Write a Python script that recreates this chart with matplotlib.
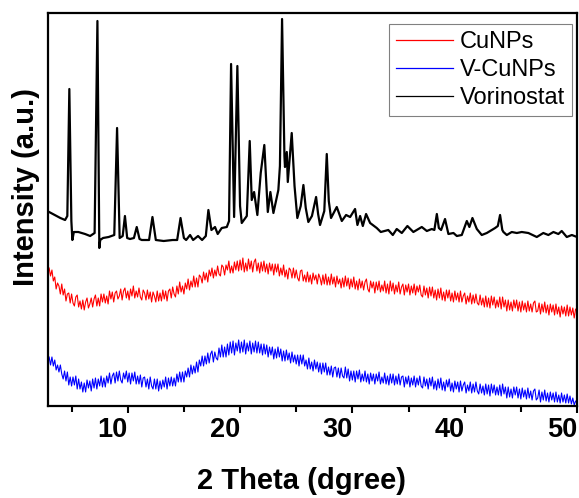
import numpy as np
import matplotlib
matplotlib.use("Agg")
import matplotlib.pyplot as plt

plt.rcParams['font.family'] = ['Liberation Sans', 'DejaVu Sans']

# === Data (intensity in arbitrary units, offsets included) ===
# scan grid for the two nanoparticle patterns (2 theta, degrees), 8 points per degree
scan_2theta = np.arange(3.0, 50.001, 0.125)

cunps = [
    138, 130, 136, 125, 129, 117, 123, 120,   # 3
    112, 122, 111, 117, 105, 112, 113, 103,   # 4
    112, 103, 100, 109, 111, 99, 105, 97,     # 5
    106, 96, 104, 108, 98, 102, 108, 99,      # 6
    107, 111, 100, 108, 100, 112, 104, 112,   # 7
    103, 110, 102, 115, 107, 114, 104, 113,   # 8
    115, 107, 110, 117, 106, 115, 118, 108,   # 9
    115, 106, 117, 110, 120, 108, 115, 109,   # 10
    118, 109, 106, 116, 113, 106, 116, 107,   # 11
    114, 104, 114, 110, 104, 115, 105, 113,   # 12
    105, 116, 107, 115, 105, 115, 117, 108,   # 13
    119, 112, 109, 120, 112, 124, 114, 120,   # 14
    112, 123, 117, 127, 116, 125, 119, 130,   # 15
    119, 128, 119, 131, 129, 123, 134, 126,   # 16
    133, 124, 136, 130, 138, 128, 136, 130,   # 17
    140, 132, 130, 141, 139, 131, 141, 136,   # 18
    145, 133, 140, 133, 144, 136, 145, 135,   # 19
    146, 136, 148, 134, 143, 135, 147, 137,   # 20
    145, 134, 144, 147, 135, 143, 133, 144,   # 21
    135, 145, 134, 142, 132, 143, 135, 142,   # 22
    131, 142, 134, 142, 130, 138, 131, 141,   # 23
    129, 136, 127, 138, 136, 128, 138, 128,   # 24
    136, 128, 125, 135, 136, 125, 131, 124,   # 25
    134, 124, 131, 122, 133, 126, 131, 122,   # 26
    132, 128, 121, 131, 122, 132, 121, 129,   # 27
    121, 132, 122, 129, 119, 130, 122, 127,   # 28
    118, 128, 119, 130, 120, 128, 117, 127,   # 29
    119, 129, 117, 125, 116, 127, 118, 125,   # 30
    116, 124, 127, 117, 114, 125, 118, 124,   # 31
    113, 124, 116, 125, 114, 121, 115, 125,   # 32
    113, 122, 112, 125, 115, 123, 112, 121,   # 33
    114, 124, 112, 119, 122, 111, 121, 114,   # 34
    122, 111, 120, 113, 122, 111, 120, 114,   # 35
    121, 111, 109, 120, 111, 118, 108, 119,   # 36
    110, 119, 108, 116, 106, 117, 108, 118,   # 37
    106, 114, 105, 116, 108, 116, 105, 113,   # 38
    104, 115, 106, 113, 104, 115, 104, 110,   # 39
    113, 102, 110, 104, 113, 102, 111, 103,   # 40
    112, 103, 101, 111, 101, 108, 99, 110,    # 41
    99, 108, 98, 110, 101, 109, 98, 106,      # 42
    99, 109, 97, 109, 99, 106, 95, 106,       # 43
    96, 104, 95, 106, 98, 106, 95, 104,       # 44
    94, 105, 96, 103, 94, 105, 95, 102,       # 45
    94, 103, 105, 94, 95, 103, 92, 102,       # 46
    94, 104, 93, 101, 91, 102, 94, 101,       # 47
    91, 102, 92, 99, 89, 100, 92, 99,         # 48
    90, 101, 90, 99, 91, 98, 88, 97,          # 49
    95,                                       # 50
]

v_cunps = [
    49, 41, 49, 40, 46, 36, 41, 34,   # 3
    41, 32, 27, 35, 25, 34, 21, 29,   # 4
    20, 29, 21, 30, 17, 27, 17, 24,   # 5
    14, 23, 14, 26, 18, 25, 15, 27,   # 6
    18, 28, 17, 27, 20, 30, 19, 28,   # 7
    19, 30, 23, 33, 22, 30, 33, 23,   # 8
    34, 25, 35, 26, 23, 33, 27, 35,   # 9
    24, 33, 22, 33, 25, 34, 22, 30,   # 10
    22, 31, 19, 28, 29, 19, 27, 17,   # 11
    29, 20, 17, 27, 17, 27, 15, 25,   # 12
    17, 26, 19, 29, 17, 28, 20, 29,   # 13
    20, 28, 20, 32, 24, 34, 24, 34,   # 14
    24, 35, 29, 38, 29, 41, 32, 40,   # 15
    33, 44, 34, 46, 40, 50, 40, 50,   # 16
    42, 53, 43, 52, 55, 44, 54, 48,   # 17
    46, 58, 49, 61, 49, 59, 49, 62,   # 18
    51, 64, 53, 65, 51, 63, 55, 66,   # 19
    53, 64, 54, 66, 52, 63, 55, 65,   # 20
    52, 63, 54, 65, 53, 64, 53, 62,   # 21
    51, 62, 52, 61, 49, 59, 51, 59,   # 22
    47, 57, 48, 59, 49, 57, 45, 55,   # 23
    45, 56, 46, 53, 43, 54, 44, 51,   # 24
    42, 51, 40, 51, 42, 51, 40, 46,   # 25
    37, 48, 37, 44, 35, 46, 37, 44,   # 26
    34, 43, 32, 43, 34, 43, 31, 39,   # 27
    31, 40, 29, 38, 39, 29, 38, 28,   # 28
    38, 30, 28, 39, 28, 37, 25, 35,   # 29
    26, 35, 24, 35, 27, 36, 24, 32,   # 30
    25, 35, 24, 32, 22, 33, 25, 32,   # 31
    22, 32, 25, 34, 22, 29, 23, 33,   # 32
    22, 30, 21, 32, 23, 32, 21, 30,   # 33
    22, 32, 21, 29, 30, 19, 29, 22,   # 34
    30, 19, 28, 21, 30, 19, 28, 21,   # 35
    30, 20, 18, 29, 20, 27, 17, 28,   # 36
    20, 29, 17, 25, 16, 27, 18, 28,   # 37
    16, 24, 15, 26, 19, 27, 15, 23,   # 38
    14, 25, 17, 24, 14, 25, 15, 21,   # 39
    24, 13, 21, 15, 24, 13, 22, 14,   # 40
    24, 15, 12, 22, 13, 20, 11, 22,   # 41
    12, 21, 10, 22, 13, 21, 11, 19,   # 42
    11, 21, 10, 22, 12, 19, 8, 19,    # 43
    9, 17, 8, 19, 11, 19, 8, 17,      # 44
    7, 18, 9, 16, 7, 18, 8, 15,       # 45
    6, 15, 17, 6, 8, 16, 4, 14,       # 46
    6, 16, 5, 13, 4, 14, 6, 13,       # 47
    4, 14, 4, 11, 3, 13, 4, 11,       # 48
    3, 12, 3, 10, 2, 8, 1, 5,         # 49
    3,                                # 50
]

# vorinostat: points picked along the trace (peak tops, valleys, baseline)
vor_2theta = [
    3.0, 3.5, 4.0, 4.42, 4.62, 4.8, 4.98, 5.07, 5.2, 5.6, 6.2, 6.65,
    7.05, 7.3, 7.47, 7.55, 7.8, 8.3, 8.8, 9.05, 9.28, 9.55, 9.75, 9.95,
    10.2, 10.55, 10.8, 11.05, 11.25, 11.9, 12.2, 12.5, 13.2, 14.0, 14.4, 14.7,
    15.0, 15.2, 15.55, 15.82, 16.26, 16.62, 16.95, 17.18, 17.45, 17.77, 18.01, 18.37,
    18.82, 19.02, 19.2, 19.47, 19.76, 20.0, 20.15, 20.6, 20.86, 21.04, 21.25, 21.54,
    21.84, 22.16, 22.47, 22.7, 22.97, 23.41, 23.55, 23.74, 23.95, 24.0, 24.16, 24.25,
    24.6, 24.85, 25.1, 25.4, 25.64, 25.85, 26.08, 26.4, 26.77, 26.95, 27.12, 27.5,
    27.72, 27.9, 28.1, 28.61, 29.06, 29.44, 29.8, 30.24, 30.45, 30.69, 30.93, 31.22,
    31.58, 32.17, 32.53, 33.2, 33.6, 33.95, 34.4, 34.9, 35.43, 36.18, 36.63, 37.07,
    37.3, 37.52, 37.7, 37.9, 38.25, 38.55, 39.0, 39.3, 39.74, 40.19, 40.42, 40.69,
    41.08, 41.52, 41.97, 42.71, 42.95, 43.15, 43.35, 43.45, 43.75, 44.19, 44.64, 45.08,
    45.67, 46.42, 47.0, 47.45, 47.9, 48.34, 48.64, 49.09, 49.54, 50.0,
]
vorinostat = [
    194, 191, 188, 186, 190, 317, 185, 166, 174, 174, 172, 170,
    173, 385, 158, 166, 168, 169, 171, 278, 168, 170, 190, 168,
    167, 168, 179, 167, 166, 166, 189, 166, 165, 166, 166, 188,
    168, 166, 171, 166, 170, 166, 170, 196, 176, 179, 172, 178,
    179, 185, 342, 189, 340, 200, 183, 190, 265, 206, 214, 191,
    233, 261, 194, 214, 193, 216, 240, 387, 250, 239, 254, 224,
    273, 220, 188, 200, 221, 198, 184, 190, 209, 192, 181, 195,
    252, 205, 188, 199, 185, 191, 189, 197, 181, 190, 180, 192,
    183, 178, 174, 176, 171, 177, 173, 180, 174, 179, 175, 177,
    176, 192, 178, 176, 187, 172, 173, 170, 171, 185, 179, 188,
    177, 171, 173, 178, 180, 191, 176, 174, 171, 174, 173, 174,
    173, 169, 173, 171, 174, 172, 175, 169, 171, 169,
]

# === Figure ===
fig = plt.figure(figsize=(5.79, 4.98), dpi=100)
ax = fig.add_axes([48 / 579, 92 / 498, 529 / 579, 393 / 498])

ax.plot(scan_2theta, cunps, color='#ff0000', lw=0.8, label='CuNPs')
ax.plot(scan_2theta, v_cunps, color='#0000ff', lw=0.8, label='V-CuNPs')
ax.plot(vor_2theta, vorinostat, color='black', lw=1.6, label='Vorinostat',
        solid_joinstyle='round')

ax.set_xlim(2.9, 50.0)
ax.set_ylim(0, 393)
ax.set_yticks([])
ax.set_xticks([10, 20, 30, 40, 50])
ax.set_xticks([5, 15, 25, 35, 45], minor=True)
ax.tick_params(axis='x', which='major', direction='out', length=5, width=1.5, pad=3,
               labelsize=19.5)
ax.tick_params(axis='x', which='minor', direction='out', length=4, width=1.5)
for lbl in ax.get_xticklabels():
    lbl.set_fontweight('bold')
    lbl.set_horizontalalignment('right')
for s in ax.spines.values():
    s.set_linewidth(1.6)

ax.set_xlabel('2 Theta (dgree)', fontsize=21, fontweight='bold')
ax.xaxis.set_label_coords(0.479, -0.155)
ax.set_ylabel('Intensity (a.u.)', fontsize=21, fontweight='bold')
ax.yaxis.set_label_coords(-0.015, 0.557)

leg = ax.legend(loc='upper right', bbox_to_anchor=(0.9905, 0.972), borderaxespad=0,
                fontsize=17, handlelength=2.4, handletextpad=0.3, labelspacing=0.25,
                fancybox=False, framealpha=1, borderpad=0.3)
leg.get_frame().set_edgecolor('#808080')
leg.get_frame().set_linewidth(0.8)
for line in leg.get_lines():
    line.set_linewidth(0.9)

fig.savefig('out.png', dpi=100)
